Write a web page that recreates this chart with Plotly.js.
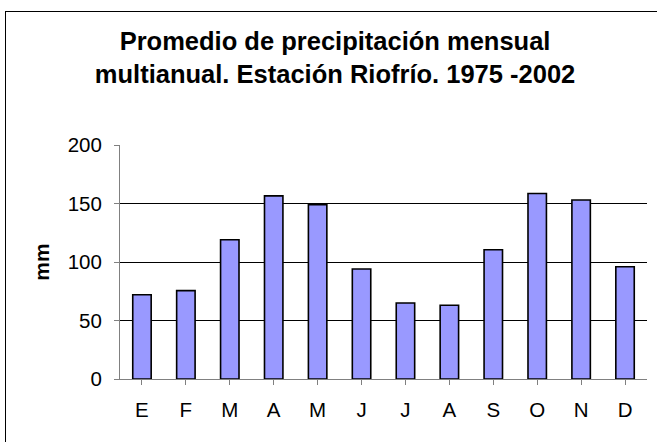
<!DOCTYPE html>
<html>
<head>
<meta charset="utf-8">
<script src="https://cdn.plot.ly/plotly-3.0.1.min.js"></script>
<style>
  html, body { margin: 0; padding: 0; background: #fff; overflow: hidden; }
  #chart { width: 657px; height: 442px; position: absolute; left: 0; top: 0; }
  #frame { position: absolute; left: 5px; top: 11px; width: 700px; height: 500px;
           border: 1px solid #000; pointer-events: none; }
</style>
</head>
<body>
<div id="chart"></div>
<div id="frame"></div>
<script>
const months = ["E", "F", "M", "A", "M", "J", "J", "A", "S", "O", "N", "D"];
const precipitationMm = [72, 75.5, 119, 156.5, 149, 94, 65, 63, 110.5, 158.5, 153, 96];
const yTickValues = [0, 50, 100, 150, 200];

const xPositions = months.map((_, i) => i);

const font = "Arial, 'Liberation Sans', sans-serif";

const trace = {
  type: "bar",
  x: xPositions,
  y: precipitationMm,
  marker: { color: "#9999FF", line: { color: "#000000", width: 1.6 } },
  hoverinfo: "y"
};

const layout = {
  width: 657,
  height: 442,
  margin: { l: 120, r: 10, t: 145, b: 63 },
  paper_bgcolor: "rgba(0,0,0,0)",
  plot_bgcolor: "#ffffff",
  bargap: 0.58,
  showlegend: false,
  font: { family: font, color: "#000000" },
  title: {
    text: "Promedio de precipitación mensual<br>multianual. Estación Riofrío. 1975 -2002",
    font: { family: font, size: 25.5, color: "#000000", weight: "bold" },
    xref: "container", x: 0.51, xanchor: "center",
    yref: "container", y: 0.887, yanchor: "top"
  },
  xaxis: {
    tickmode: "array",
    tickvals: xPositions,
    ticktext: months,
    range: [-0.5, 11.5],
    showgrid: false,
    showline: true,
    linecolor: "#808080",
    linewidth: 1,
    ticks: "outside",
    tickson: "boundaries",
    ticklen: 5,
    tickcolor: "#808080",
    ticklabelstandoff: 7,
    tickfont: { family: font, size: 20.5, color: "#000000" },
    zeroline: false,
    fixedrange: true
  },
  yaxis: {
    range: [0, 200],
    tickmode: "array",
    tickvals: yTickValues,
    ticktext: yTickValues.map(String),
    showgrid: true,
    gridcolor: "#000000",
    gridwidth: 1,
    showline: true,
    linecolor: "#808080",
    linewidth: 1,
    ticks: "outside",
    ticklen: 5,
    tickcolor: "#808080",
    ticklabelstandoff: 8,
    tickfont: { family: font, size: 20.5, color: "#000000" },
    zeroline: false,
    automargin: false,
    title: {
      text: "mm",
      font: { family: font, size: 21, color: "#000000", weight: "bold" },
      standoff: 12
    },
    fixedrange: true
  }
};

Plotly.newPlot("chart", [trace], layout, { displayModeBar: false, staticPlot: true });
</script>
</body>
</html>
